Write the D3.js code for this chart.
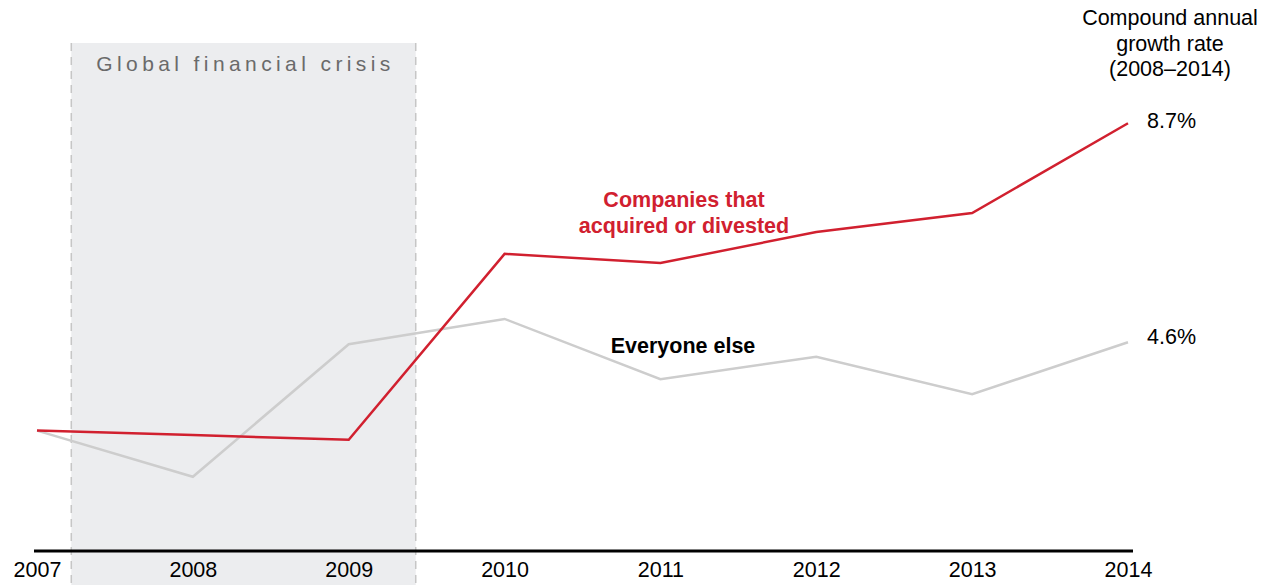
<!DOCTYPE html>
<html>
<head>
<meta charset="utf-8">
<script src="https://cdn.jsdelivr.net/npm/d3@7"></script>
<style>
  html, body { margin: 0; padding: 0; background: #fff; }
  svg { display: block; font-family: "Liberation Sans", Arial, sans-serif; }
</style>
</head>
<body>
<div id="chart"></div>
<script>
// index, 2007 = 100
var years = [ 2007, 2008, 2009, 2010, 2011, 2012, 2013, 2014 ];
var acquirers = [ 100, 99.1, 98.1, 136.4, 134.5, 140.9, 144.8, 163.3 ];
var everyoneElse = [ 100, 90.5, 117.8, 123.0, 110.6, 115.2, 107.5, 118.2 ];
var crisisYears = [ 2007.22, 2009.43 ];
var cagrLabels = [ "8.7%", "4.6%" ];
var cagrTitle = [ "Compound annual", "growth rate", "(2008\u20132014)" ];

var width = 1270, height = 585;
var fontSize = "21.5px";

var xScale = d3.scaleLinear()
	.domain( [ 2007, 2014 ] )
	.range( [ 37, 1128 ] );

var yScale = d3.scaleLinear()
	.domain( [ 75, 165 ] )
	.range( [ 552, 115 ] );

var svg = d3.select( "#chart" ).append( "svg" )
	.attr( "width", width )
	.attr( "height", height );

// crisis band
svg.append( "rect" )
	.attr( "x", xScale( crisisYears[0] ) )
	.attr( "y", 43 )
	.attr( "width", xScale( crisisYears[1] ) - xScale( crisisYears[0] ) )
	.attr( "height", height - 43 )
	.attr( "fill", "#ecedef" );

svg.selectAll( ".crisis-edge" )
	.data( crisisYears )
	.enter()
	.append( "line" )
	.attr( "x1", d => xScale( d ) )
	.attr( "x2", d => xScale( d ) )
	.attr( "y1", 43 )
	.attr( "y2", height )
	.attr( "stroke", "#c6c6c6" )
	.attr( "stroke-width", 1.5 )
	.attr( "stroke-dasharray", "8,6" );

svg.append( "text" )
	.attr( "x", ( xScale( crisisYears[0] ) + xScale( crisisYears[1] ) ) / 2 + 2 )
	.attr( "y", 71 )
	.attr( "text-anchor", "middle" )
	.style( "font-size", "21px" )
	.style( "letter-spacing", "4.4px" )
	.attr( "fill", "#6a6a6a" )
	.text( "Global financial crisis" );

// x axis
var xAxis = g => g
	.attr( "transform", "translate(0, 551)" )
	.call( d3.axisBottom( xScale ).tickValues( years ).tickFormat( d3.format( "d" ) ).tickSize( 0 ).tickPadding( 11 ) )
	.call( g => g.select( ".domain" ).remove() )
	.selectAll( "text" )
	.attr( "fill", "#000" )
	.style( "font-size", fontSize )
	.style( "font-family", "'Liberation Sans', Arial, sans-serif" );

svg.append( "g" ).call( xAxis );

svg.append( "line" )
	.attr( "x1", 34 )
	.attr( "x2", 1133 )
	.attr( "y1", 551 )
	.attr( "y2", 551 )
	.attr( "stroke", "#000" )
	.attr( "stroke-width", 3 );

var line = d3.line()
	.x( ( d, i ) => xScale( years[i] ) )
	.y( d => yScale( d ) );

svg.append( "path" )
	.attr( "d", line( everyoneElse ) )
	.attr( "fill", "none" )
	.attr( "stroke", "#cdcdcd" )
	.attr( "stroke-width", 2.5 );

svg.append( "path" )
	.attr( "d", line( acquirers ) )
	.attr( "fill", "none" )
	.attr( "stroke", "#d1202f" )
	.attr( "stroke-width", 2.5 );

// series labels
svg.append( "text" )
	.attr( "text-anchor", "middle" )
	.attr( "fill", "#d1202f" )
	.style( "font-size", fontSize )
	.style( "font-weight", "bold" )
	.selectAll( "tspan" )
	.data( [ "Companies that", "acquired or divested" ] )
	.enter()
	.append( "tspan" )
	.attr( "x", 684 )
	.attr( "y", ( d, i ) => 207 + i * 26 )
	.text( d => d );

svg.append( "text" )
	.attr( "x", 683 )
	.attr( "y", 353 )
	.attr( "text-anchor", "middle" )
	.attr( "fill", "#000" )
	.style( "font-size", fontSize )
	.style( "font-weight", "bold" )
	.text( "Everyone else" );

// CAGR column
svg.append( "text" )
	.attr( "text-anchor", "middle" )
	.attr( "fill", "#000" )
	.style( "font-size", fontSize )
	.selectAll( "tspan" )
	.data( cagrTitle )
	.enter()
	.append( "tspan" )
	.attr( "x", 1170 )
	.attr( "y", ( d, i ) => 25 + i * 25.5 )
	.text( d => d );

var cagrOffset = [ 5, 2 ];
svg.selectAll( ".cagr" )
	.data( [ acquirers, everyoneElse ] )
	.enter()
	.append( "text" )
	.attr( "class", "cagr" )
	.attr( "x", 1147 )
	.attr( "y", ( d, i ) => yScale( d[d.length - 1] ) + cagrOffset[i] )
	.attr( "fill", "#000" )
	.style( "font-size", fontSize )
	.text( ( d, i ) => cagrLabels[i] );
</script>
</body>
</html>
